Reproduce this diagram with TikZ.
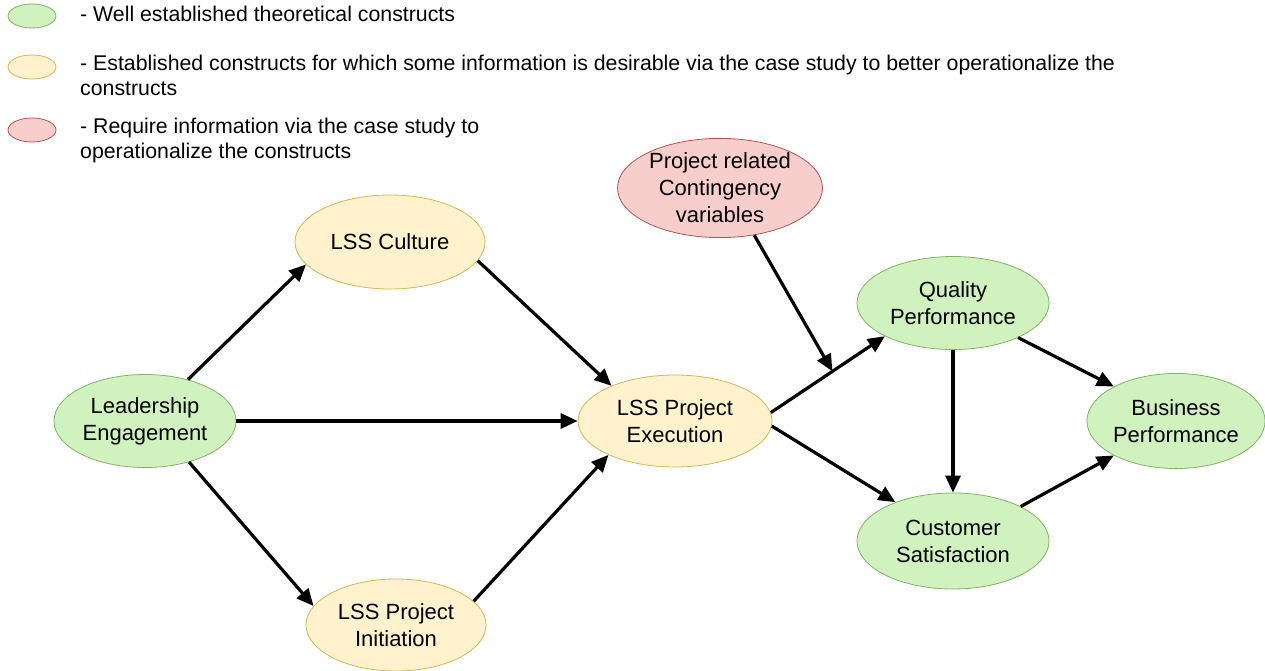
\documentclass[tikz,border=0pt]{standalone}
\usepackage{fontspec}
\setmainfont{Liberation Sans}
\usetikzlibrary{shapes.geometric,arrows.meta}

\definecolor{grnfill}{RGB}{208,242,190}
\definecolor{grnline}{RGB}{130,179,102}
\definecolor{ylwfill}{RGB}{255,242,204}
\definecolor{ylwline}{RGB}{214,182,86}
\definecolor{redfill}{RGB}{248,206,204}
\definecolor{redline}{RGB}{184,84,80}

\tikzset{
  construct/.style={ellipse, draw, line width=0.8pt, inner sep=0pt, align=center,
    font=\fontsize{22}{27}\selectfont},
  wellest/.style={construct, fill=grnfill, draw=grnline},
  estab/.style={construct, fill=ylwfill, draw=ylwline},
  needinfo/.style={construct, fill=redfill, draw=redline},
  keyshape/.style={ellipse, draw, line width=0.8pt, minimum width=48pt, minimum height=24pt, inner sep=0pt},
  keytext/.style={anchor=base west, align=left, inner sep=0pt,
    font=\fontsize{21.3}{25}\selectfont},
  link/.style={line width=3.2pt, -{Triangle[length=17pt,width=15pt]}},
}

\begin{document}
\begin{tikzpicture}[x=1pt,y=-1pt]
\useasboundingbox (0,0) rectangle (1265,671);

% key
\node[keyshape, fill=grnfill, draw=grnline] (k1) at (32,16) {};
\node[keyshape, fill=ylwfill, draw=ylwline] (k2) at (32,67) {};
\node[keyshape, fill=redfill, draw=redline] (k3) at (32,130) {};
\node[keytext] (t1) at (80,22) {- Well established theoretical constructs};
\node[keytext, anchor=north west] (t2) at (80,55) {- Established constructs for which some information is desirable via the case study to better operationalize the\\constructs};
\node[keytext, anchor=north west] (t3) at (80,118) {- Require information via the case study to\\operationalize the constructs};

% constructs
\node[wellest, minimum width=182pt, minimum height=93pt] (lead) at (145,421) {Leadership\\Engagement};
\node[estab, minimum width=190pt, minimum height=94pt] (cult) at (390,242) {LSS Culture};
\node[estab, minimum width=180pt, minimum height=92pt] (init) at (396,625) {LSS Project\\Initiation};
\node[estab, minimum width=194pt, minimum height=92pt] (exec) at (675,421) {LSS Project\\Execution};
\node[needinfo, minimum width=205pt, minimum height=96pt] (cont) at (720,188) {Project related\\Contingency\\variables};
\node[wellest, minimum width=192pt, minimum height=93pt] (qual) at (953,303) {Quality\\Performance};
\node[wellest, minimum width=192pt, minimum height=96pt] (cust) at (953,541) {Customer\\Satisfaction};
\node[wellest, minimum width=174pt, minimum height=95pt] (bus) at (1176,421) {Business\\Performance};

% relations
\draw[link] (lead.44) -- (cult.195);
\draw[link] (lead.0) -- (exec.180);
\draw[link] (lead.-43) -- (init.167);
\draw[link] (cult.-12) -- (exec.151);
\draw[link] (init.17) -- (exec.207);
\draw[link] (exec.5) -- coordinate[pos=0.54] (mod) (qual.206);
\draw[link] (exec.-3) -- (cust.146);
\draw[link] (qual.270) -- (cust.90);
\draw[link] (qual.-28) -- (bus.151);
\draw[link] (cust.27) -- (bus.209);
\draw[link] (cont.-54) -- (mod);
\end{tikzpicture}
\end{document}
